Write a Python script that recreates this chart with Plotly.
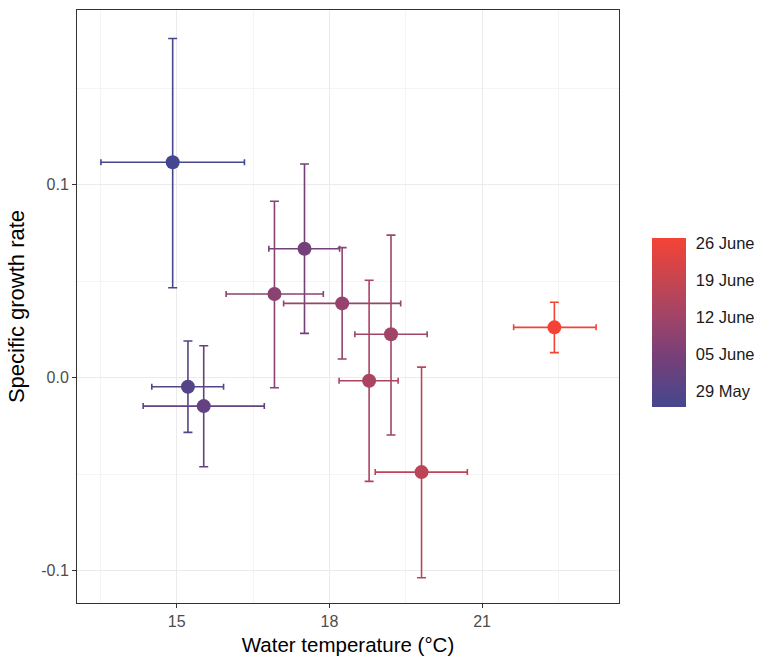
import plotly.graph_objects as go
from plotly.colors import sample_colorscale
import datetime as dt

# Data
dates = ["2019-05-26", "2019-05-29", "2019-06-01", "2019-06-04", "2019-06-08",
         "2019-06-10", "2019-06-12", "2019-06-14", "2019-06-17", "2019-06-27"]
temp = [14.92, 15.22, 15.53, 17.51, 16.92, 18.25, 19.21, 18.78, 19.81, 22.42]
temp_lo = [13.51, 14.51, 14.34, 16.81, 15.97, 17.10, 18.50, 18.19, 18.90, 21.62]
temp_hi = [16.33, 15.92, 16.72, 18.20, 17.88, 19.40, 19.92, 19.35, 20.71, 23.24]
sgr = [0.1116, -0.0047, -0.0147, 0.0668, 0.0434, 0.0385, 0.0225, -0.0016, -0.0489, 0.0261]
sgr_lo = [0.0466, -0.0283, -0.0461, 0.0230, -0.0052, 0.0097, -0.0297, -0.0537, -0.1036, 0.0130]
sgr_hi = [0.1757, 0.0190, 0.0166, 0.1107, 0.0914, 0.0674, 0.0739, 0.0505, 0.0055, 0.0391]

cbar_ticks = ["2019-05-29", "2019-06-05", "2019-06-12", "2019-06-19", "2019-06-26"]
cbar_labels = ["29 May", "05 June", "12 June", "19 June", "26 June"]

colorscale = [[0.0, "#45478E"], [0.28, "#74407A"], [0.53, "#A04468"],
              [0.76, "#C8454F"], [1.0, "#F44336"]]

base = dt.date(2019, 5, 1)
def dnum(s):
    return (dt.date.fromisoformat(s) - base).days

days = [dnum(d) for d in dates]
cmin, cmax = min(days), max(days)
fracs = [(d - cmin) / (cmax - cmin) for d in days]
cols = sample_colorscale(colorscale, fracs)

FONT = "Liberation Sans, Arial, sans-serif"

fig = go.Figure()
for i in range(len(temp)):
    fig.add_trace(go.Scatter(
        x=[temp[i]], y=[sgr[i]], mode="markers",
        marker=dict(size=14, color=cols[i]),
        error_x=dict(type="data", symmetric=False,
                     array=[temp_hi[i] - temp[i]], arrayminus=[temp[i] - temp_lo[i]],
                     color=cols[i], thickness=1.6, width=3),
        error_y=dict(type="data", symmetric=False,
                     array=[sgr_hi[i] - sgr[i]], arrayminus=[sgr[i] - sgr_lo[i]],
                     color=cols[i], thickness=1.6, width=4.5),
        showlegend=False, hoverinfo="x+y"))

# colorbar trace
fig.add_trace(go.Scatter(
    x=[temp[0]], y=[sgr[0]], mode="markers",
    marker=dict(size=0.1, opacity=0, color=days, colorscale=colorscale, cmin=cmin, cmax=cmax,
                showscale=True,
                colorbar=dict(
                    tickvals=[dnum(t) for t in cbar_ticks], ticktext=cbar_labels,
                    ticks="outside", tickcolor="white", ticklen=7, tickwidth=1,
                    thickness=34, len=169, lenmode="pixels",
                    x=1.061, xanchor="left", xpad=0, y=0.4735, yanchor="middle", ypad=0,
                    outlinewidth=0, tickfont=dict(size=16.5, color="#1a1a1a", family=FONT))),
    showlegend=False, hoverinfo="skip"))

axis_common = dict(showgrid=True, gridcolor="#ebebeb", gridwidth=1.1, zeroline=False,
                   showline=True, linecolor="#333333", linewidth=1, mirror=True,
                   ticks="outside", ticklen=4, tickcolor="#333333", tickwidth=1,
                   automargin=False,
                   tickfont=dict(size=16, color="#4d4d4d", family=FONT))

fig.update_layout(
    width=760, height=656,
    margin=dict(l=77, r=141, t=10, b=53, autoexpand=False),
    plot_bgcolor="white", paper_bgcolor="white",
    font=dict(family=FONT),
    xaxis=dict(range=[13.04, 23.69], tickvals=[15, 18, 21], ticktext=["15", "18", "21"],
               minor=dict(tickvals=[13.5, 16.5, 19.5, 22.5], showgrid=True,
                          gridcolor="#f4f4f4", gridwidth=0.6, ticks=""),
               title=dict(text="Water temperature (°C)", standoff=8,
                          font=dict(size=20.5, color="#000000")),
               **axis_common),
    yaxis=dict(range=[-0.1167, 0.1905], tickvals=[-0.1, 0.0, 0.1], ticktext=["-0.1", "0.0", "0.1"],
               minor=dict(tickvals=[-0.05, 0.05, 0.15], showgrid=True,
                          gridcolor="#f4f4f4", gridwidth=0.6, ticks=""),
               title=dict(text="Specific growth rate", standoff=10,
                          font=dict(size=22, color="#000000")),
               **axis_common),
)

fig.write_html("out.html", config={"displayModeBar": False},
               post_script="document.body.style.margin='0';")
